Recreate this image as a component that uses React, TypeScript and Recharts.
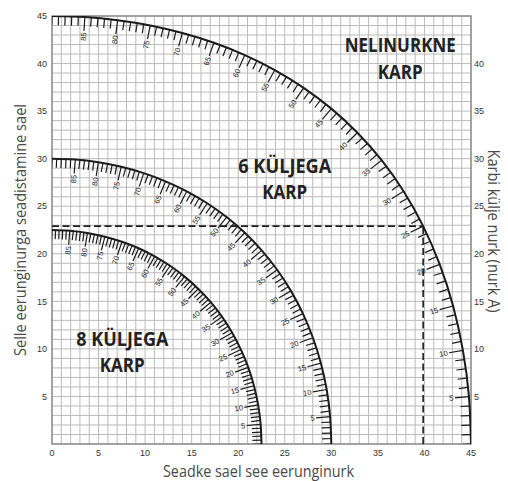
import React from "react";
import {
  CartesianGrid,
  ComposedChart,
  Label,
  Line,
  ReferenceArea,
  Scatter,
  XAxis,
  YAxis,
} from "recharts";

// box side angle (nurk A), one point every 5 degrees
const ANGLES = [0, 5, 10, 15, 20, 25, 30, 35, 40, 45, 50, 55, 60, 65, 70, 75, 80, 85, 90];

// nelinurkne karp (4 sides)
const SQUARE_X = [45.0, 44.78, 44.13, 43.08, 41.64, 39.86, 37.76, 35.4, 32.8, 30.0, 27.03, 23.93, 20.71, 17.39, 14.0, 10.55, 7.05, 3.53, 0];
const SQUARE_Y = [0, 4.98, 9.85, 14.51, 18.88, 22.91, 26.57, 29.84, 32.73, 35.26, 37.45, 39.32, 40.89, 42.19, 43.22, 44.01, 44.56, 44.89, 45.0];

// 6 küljega karp
const HEX_X = [30.0, 29.87, 29.5, 28.88, 28.02, 26.95, 25.66, 24.18, 22.52, 20.71, 18.75, 16.67, 14.48, 12.2, 9.85, 7.44, 4.98, 2.5, 0];
const HEX_Y = [0, 2.88, 5.73, 8.5, 11.17, 13.71, 16.1, 18.32, 20.36, 22.21, 23.86, 25.31, 26.57, 27.62, 28.48, 29.15, 29.62, 29.91, 30.0];

// 8 küljega karp
const OCT_X = [22.5, 22.41, 22.14, 21.69, 21.08, 20.29, 19.35, 18.27, 17.05, 15.7, 14.24, 12.68, 11.03, 9.31, 7.52, 5.68, 3.81, 1.91, 0];
const OCT_Y = [0, 2.07, 4.11, 6.12, 8.06, 9.93, 11.7, 13.37, 14.91, 16.32, 17.6, 18.74, 19.73, 20.58, 21.27, 21.8, 22.19, 22.42, 22.5];

// worked example drawn with dashed lines (angle A = 25)
const EXAMPLE_ANGLE = 25;

const X_TICKS = [0, 5, 10, 15, 20, 25, 30, 35, 40, 45];
const Y_TICKS_LEFT = [5, 10, 15, 20, 25, 30, 35, 40, 45];
const Y_TICKS_RIGHT = [5, 10, 15, 20, 25, 30, 35, 40];

const BOX_LABELS = [
  { lines: ["NELINURKNE", "KARP"], x: 37.4, y: 41.2 },
  { lines: ["6 KÜLJEGA", "KARP"], x: 25.0, y: 28.5 },
  { lines: ["8 KÜLJEGA", "KARP"], x: 7.55, y: 10.35 },
];
const TEXT_WIDTH: Record<string, number> = {
  NELINURKNE: 111,
  "6 KÜLJEGA": 93,
  "8 KÜLJEGA": 92,
  KARP: 45,
};

const WIDTH = 508;
const HEIGHT = 481;
const AXIS_LEFT = 52;
const AXIS_RIGHT = 37;
const AXIS_TOP = 16;
const AXIS_BOTTOM = 37;
const MAX = 45;
const KX = (WIDTH - AXIS_LEFT - AXIS_RIGHT) / MAX;
const KY = (HEIGHT - AXIS_TOP - AXIS_BOTTOM) / MAX;
const GRID_STEPS = Array.from({ length: MAX + 1 }, (_, i) => i);

const INK = "#1c1c1c";
const TICK_FONT = "'Liberation Sans', Arial, sans-serif";
const TITLE_FONT = "'Open Sans', 'Noto Sans', sans-serif";

type Pt = { angle: number; x: number; y: number };

const toPoints = (xs: number[], ys: number[]): Pt[] =>
  ANGLES.map((angle, i) => ({ angle, x: xs[i], y: ys[i] }));

const square = toPoints(SQUARE_X, SQUARE_Y);
const hex = toPoints(HEX_X, HEX_Y);
const oct = toPoints(OCT_X, OCT_Y);

// graduation marks along a curve: labelled mark at every point,
// four unlabelled marks between neighbours (decoration only)
function buildMarks(pts: Pt[]) {
  const out: any[] = [];
  pts.forEach((p, i) => {
    const prev = pts[Math.max(i - 1, 0)];
    const next = pts[Math.min(i + 1, pts.length - 1)];
    const labelled = p.angle > 0 && p.angle < 90;
    out.push({
      x: p.x,
      y: p.y,
      tx: next.x - prev.x,
      ty: next.y - prev.y,
      major: labelled,
      label: labelled ? String(p.angle) : "",
    });
    if (i < pts.length - 1) {
      const n = pts[i + 1];
      for (let j = 1; j < 5; j++) {
        out.push({
          x: p.x + ((n.x - p.x) * j) / 5,
          y: p.y + ((n.y - p.y) * j) / 5,
          tx: n.x - p.x,
          ty: n.y - p.y,
          major: false,
          label: "",
        });
      }
    }
  });
  return out;
}

const marks = [...buildMarks(square), ...buildMarks(hex), ...buildMarks(oct)];

const example = square.find((p) => p.angle === EXAMPLE_ANGLE)!;
const dashH = [
  { x: 0, y: example.y },
  { x: example.x, y: example.y },
];
const dashV = [
  { x: example.x, y: 0 },
  { x: example.x, y: example.y },
];

function GraduationMark(props: any) {
  const { cx, cy, payload } = props;
  if (cx == null || cy == null) return <g />;
  let px = payload.tx * KX;
  let py = -payload.ty * KY;
  const d = Math.hypot(px, py) || 1;
  px /= d;
  py /= d;
  let nx = -py;
  let ny = px;
  if (-nx + ny < 0) {
    nx = -nx;
    ny = -ny;
  }
  const len = payload.major ? 14 : 9;
  const lx = cx + nx * (len + 1.5);
  const ly = cy + ny * (len + 1.5);
  const rot = (Math.atan2(-ny, -nx) * 180) / Math.PI;
  return (
    <g>
      <line
        x1={cx}
        y1={cy}
        x2={cx + nx * len}
        y2={cy + ny * len}
        stroke={INK}
        strokeWidth={1.2}
      />
      {payload.label && (
        <text
          x={lx}
          y={ly}
          transform={`rotate(${rot} ${lx} ${ly})`}
          textAnchor="end"
          dominantBaseline="central"
          fontSize={7.5}
          fontFamily={TICK_FONT}
          fill="#222"
        >
          {payload.label}
        </text>
      )}
    </g>
  );
}

function BoxLabel(props: any) {
  const { cx, cy, payload } = props;
  if (cx == null || cy == null) return <g />;
  return (
    <g>
      {payload.lines.map((line: string, i: number) => (
        <text
          key={line}
          x={cx}
          y={cy + i * 26.5}
          textAnchor="middle"
          textLength={TEXT_WIDTH[line]}
          lengthAdjust="spacingAndGlyphs"
          fontSize={19}
          fontWeight={700}
          fontFamily={TITLE_FONT}
          fill="#222"
        >
          {line}
        </text>
      ))}
    </g>
  );
}

const titleStyle = {
  fontSize: 17,
  fontFamily: TITLE_FONT,
  fill: "#4a4a4a",
};

function LeftTitle({ viewBox }: any) {
  const x = viewBox.x + 19;
  const y = viewBox.y + viewBox.height / 2;
  return (
    <text
      x={x}
      y={y}
      transform={`rotate(-90 ${x} ${y})`}
      textAnchor="middle"
      dominantBaseline="central"
      textLength={252}
      lengthAdjust="spacingAndGlyphs"
      {...titleStyle}
    >
      Selle eerunginurga seadistamine sael
    </text>
  );
}

function RightTitle({ viewBox }: any) {
  const x = viewBox.x + 23;
  const y = viewBox.y + viewBox.height / 2 + 1;
  return (
    <text
      x={x}
      y={y}
      transform={`rotate(90 ${x} ${y})`}
      textAnchor="middle"
      dominantBaseline="central"
      textLength={163}
      lengthAdjust="spacingAndGlyphs"
      {...titleStyle}
    >
      Karbi külje nurk (nurk A)
    </text>
  );
}

function BottomTitle({ viewBox }: any) {
  return (
    <text
      x={viewBox.x + viewBox.width / 2 - 3}
      y={viewBox.y + 33}
      textAnchor="middle"
      textLength={191}
      lengthAdjust="spacingAndGlyphs"
      {...titleStyle}
    >
      Seadke sael see eerunginurk
    </text>
  );
}

const tickStyle = { fontSize: 9, fontFamily: TICK_FONT, fill: "#333" };

const scaleOr = (axis: any, v: number, fallback: number) =>
  typeof axis?.scale === "function" ? axis.scale(v) : fallback;

export default function App() {
  return (
    <div style={{ width: WIDTH, height: HEIGHT }}>
      <style>{"body{margin:0}"}</style>
      <ComposedChart
        width={WIDTH}
        height={HEIGHT}
        margin={{ top: 0, right: 0, bottom: 0, left: 0 }}
      >
        <CartesianGrid
          stroke="#bababa"
          strokeWidth={1}
          verticalCoordinatesGenerator={({ xAxis, offset }: any) =>
            GRID_STEPS.map((v) =>
              scaleOr(xAxis, v, offset.left + (v / MAX) * offset.width)
            )
          }
          horizontalCoordinatesGenerator={({ yAxis, offset }: any) =>
            GRID_STEPS.map((v) =>
              scaleOr(yAxis, v, offset.top + offset.height - (v / MAX) * offset.height)
            )
          }
        />
        <XAxis
          dataKey="x"
          type="number"
          domain={[0, MAX]}
          ticks={X_TICKS}
          height={AXIS_BOTTOM}
          tickSize={0}
          tickMargin={6}
          axisLine={false}
          tickLine={false}
          tick={tickStyle}
          allowDataOverflow
        >
          <Label content={BottomTitle} />
        </XAxis>
        <XAxis
          xAxisId="top"
          orientation="top"
          type="number"
          domain={[0, MAX]}
          ticks={X_TICKS}
          height={AXIS_TOP}
          tickSize={0}
          tickMargin={4}
          axisLine={false}
          tickLine={false}
          tick={tickStyle}
          allowDataOverflow
        />
        <YAxis
          dataKey="y"
          type="number"
          domain={[0, MAX]}
          ticks={Y_TICKS_LEFT}
          width={AXIS_LEFT}
          tickSize={0}
          tickMargin={5}
          axisLine={false}
          tickLine={false}
          tick={tickStyle}
          allowDataOverflow
        >
          <Label content={LeftTitle} />
        </YAxis>
        <YAxis
          yAxisId="right"
          orientation="right"
          type="number"
          domain={[0, MAX]}
          ticks={Y_TICKS_RIGHT}
          width={AXIS_RIGHT}
          tickSize={0}
          tickMargin={3}
          axisLine={false}
          tickLine={false}
          tick={tickStyle}
          allowDataOverflow
        >
          <Label content={RightTitle} />
        </YAxis>
        <ReferenceArea
          x1={0}
          x2={MAX}
          y1={0}
          y2={MAX}
          fill="none"
          stroke="#8f8f8f"
          strokeWidth={1.5}
        />
        <Line
          data={dashH}
          dataKey="y"
          type="linear"
          stroke={INK}
          strokeWidth={1.6}
          strokeDasharray="7 3.5"
          dot={false}
          isAnimationActive={false}
        />
        <Line
          data={dashV}
          dataKey="y"
          type="linear"
          stroke={INK}
          strokeWidth={1.6}
          strokeDasharray="7 3.5"
          dot={false}
          isAnimationActive={false}
        />
        <Scatter
          data={marks}
          dataKey="y"
          shape={GraduationMark}
          isAnimationActive={false}
        />
        {[square, hex, oct].map((pts, i) => (
          <Line
            key={i}
            data={pts}
            dataKey="y"
            type="natural"
            stroke={INK}
            strokeWidth={2}
            dot={false}
            isAnimationActive={false}
          />
        ))}
        <Scatter
          data={BOX_LABELS}
          dataKey="y"
          shape={BoxLabel}
          isAnimationActive={false}
        />
      </ComposedChart>
    </div>
  );
}
